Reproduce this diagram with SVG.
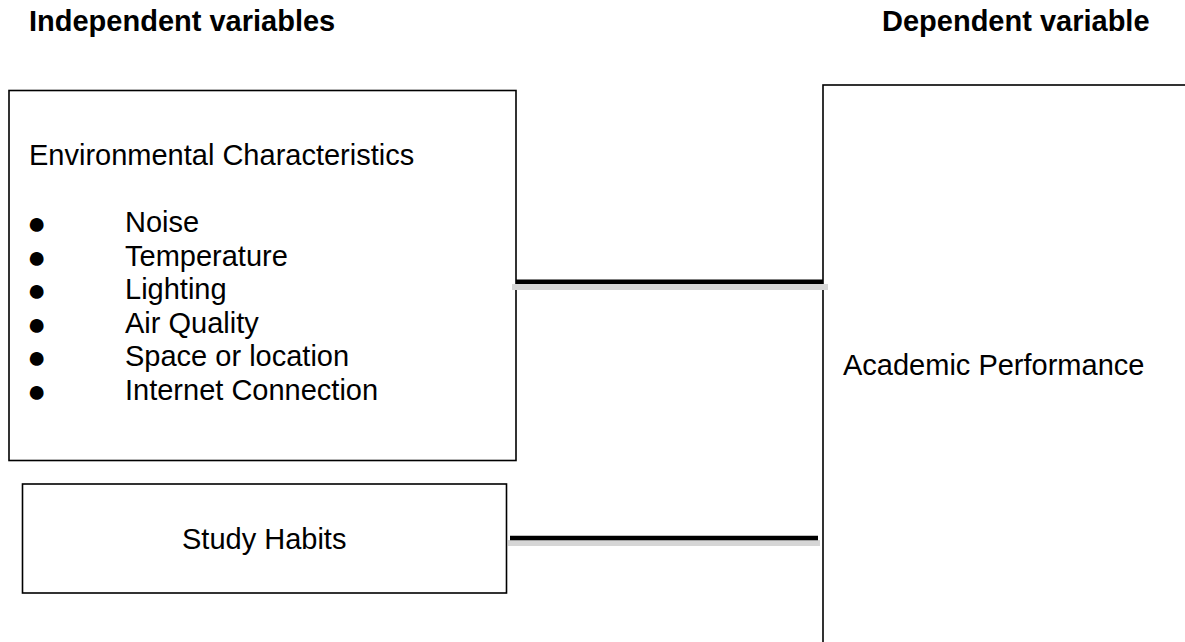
<svg xmlns="http://www.w3.org/2000/svg" width="1185" height="642" viewBox="0 0 1185 642">
  <style>
    .box { fill: #ffffff; stroke: #000000; stroke-width: 1.6; }
    .hdr { font-family: "Liberation Sans", Arial, sans-serif; font-size: 29px; font-weight: bold; fill: #000; }
    .txt { font-family: "Liberation Sans", Arial, sans-serif; font-size: 29px; fill: #000; }
    .bul { font-family: "Liberation Sans", "DejaVu Sans", sans-serif; font-size: 32px; fill: #000; }
    .conn { stroke: #000000; stroke-width: 4.5; fill: none; }
    .shadow { stroke: #d6d6d6; stroke-width: 6; fill: none; }
  </style>
  <rect x="0" y="0" width="1185" height="642" fill="#ffffff"/>

  <g id="headers">
    <text class="hdr" x="29" y="31">Independent variables</text>
    <text class="hdr" x="882" y="31">Dependent variable</text>
  </g>

  <g id="node-environment">
    <rect class="box" x="9" y="90.5" width="507" height="370"/>
    <text class="txt" x="29" y="165">Environmental Characteristics</text>
    <text class="bul" x="27" y="234">●</text>
    <text class="txt" x="125" y="232">Noise</text>
    <text class="bul" x="27" y="267.5">●</text>
    <text class="txt" x="125" y="265.5">Temperature</text>
    <text class="bul" x="27" y="301">●</text>
    <text class="txt" x="125" y="299">Lighting</text>
    <text class="bul" x="27" y="334.5">●</text>
    <text class="txt" x="125" y="332.5">Air Quality</text>
    <text class="bul" x="27" y="368">●</text>
    <text class="txt" x="125" y="366">Space or location</text>
    <text class="bul" x="27" y="401.5">●</text>
    <text class="txt" x="125" y="399.5">Internet Connection</text>
  </g>

  <g id="node-study">
    <rect class="box" x="22.5" y="484" width="484" height="109"/>
    <text class="txt" x="182" y="549">Study Habits</text>
  </g>

  <g id="node-academic">
    <rect class="box" x="823" y="85" width="400" height="600" stroke-width="2"/>
    <text class="txt" x="843" y="375">Academic Performance</text>
  </g>

  <g id="connectors">
    <line class="shadow" x1="512" y1="287" x2="828" y2="287"/>
    <line class="conn" x1="516" y1="281.7" x2="823" y2="281.7"/>
    <line class="shadow" x1="508" y1="543" x2="820" y2="543"/>
    <line class="conn" x1="510" y1="538" x2="818" y2="538"/>
  </g>
</svg>
